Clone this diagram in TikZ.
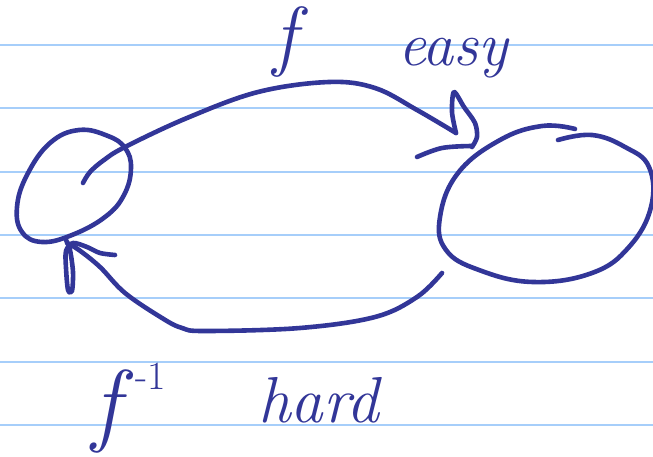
\documentclass[tikz,border=0pt]{standalone}
\definecolor{ink}{RGB}{50,54,152}
\definecolor{rule}{RGB}{166,206,250}
\tikzset{
  pen/.style={draw=ink, line width=4.6pt, line cap=round, line join=round},
  ruling/.style={draw=rule, line width=2pt},
  hand/.style={text=ink, inner sep=0pt, outer sep=0pt}
}
\begin{document}
\begin{tikzpicture}[x=1pt,y=-1pt]
\useasboundingbox (0,0) rectangle (653,457);
\fill[white] (0,0) rectangle (653,457);
% ruled paper
\foreach \yy in {45,108,172,235,298,362,425}
  \draw[ruling] (0,\yy) -- (653,\yy);
% named points
\coordinate (leftstart) at (83,183);
\coordinate (toptip) at (456,133);
\coordinate (botstart) at (442,273);
\coordinate (bottip) at (67,243);
% left set
\draw[pen] plot[smooth cycle, tension=0.7] coordinates {(79,130) (108,136) (125,148) (131,168) (124,195) (105,217) (72,235) (42,242) (22,232) (17,207) (27,175) (50,143)};
% right set
\draw[pen] plot[smooth, tension=0.7] coordinates {(575,129) (542,126) (500,140) (458,173) (440,217) (446,250) (479,270) (533,282) (592,273) (629,247) (651,207) (649,167) (625,147) (592,135) (558,140)};
% top arrow f
\draw[pen] plot[smooth, tension=0.6] coordinates {(leftstart) (90,172) (104,160) (125,147) (187,118) (258,92) (329,82) (375,88) (417,110) (toptip)};
\draw[pen] plot[smooth, tension=0.5] coordinates {(toptip) (452,112) (454,92) (464,107) (475,123) (477,137) (472,147)};
\draw[pen] plot[smooth, tension=0.6] coordinates {(472,146) (442,148) (417,157)};
% bottom arrow f^-1
\draw[pen] plot[smooth, tension=0.6] coordinates {(botstart) (417,297) (375,317) (300,328) (205,331) (182,328) (162,318) (125,293) (100,267) (79,250) (bottip)};
\draw[pen] plot[smooth, tension=0.5] coordinates {(115,255) (100,253) (87,247) (73,243) (66,251) (66,268) (68,290) (72,291) (73,272) (70,250) (66,240)};
% labels
\node[hand, anchor=base] (lf) at (285,62) {\fontsize{78}{78}\selectfont\itshape f};
\node[hand, anchor=base west] (leasy) at (398,66) {\fontsize{62}{62}\selectfont\itshape easy};
\node[hand, anchor=base west] (lfinv) at (92,434) {\fontsize{92}{92}\selectfont\itshape f\hspace{16pt}\raisebox{45pt}{\fontsize{40}{40}\selectfont\upshape -1}};
\node[hand, anchor=base west] (lhard) at (258,422) {\fontsize{65}{65}\selectfont\itshape hard};
\end{tikzpicture}
\end{document}
